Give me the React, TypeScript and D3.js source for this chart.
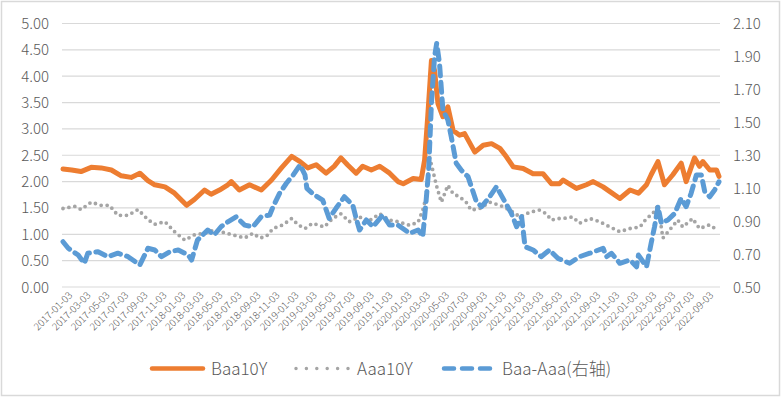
import React from 'react';
import * as d3 from 'd3';

const W = 782;
const H = 398;

const leftTicks = [0, 0.5, 1, 1.5, 2, 2.5, 3, 3.5, 4, 4.5, 5];
const rightTicks = [0.5, 0.7, 0.9, 1.1, 1.3, 1.5, 1.7, 1.9, 2.1];
const xTickLabels = d3.range(35).map((i) => d3.timeFormat('%Y-%m-%d')(new Date(2017, i * 2, 3)));

const seriesNames = ['Baa10Y', 'Aaa10Y', 'Baa-Aaa(右轴)'];

const baaDates = [
  '2017-01-03','2017-01-31','2017-03-02','2017-04-04','2017-05-06','2017-06-08','2017-07-10','2017-08-11','2017-09-08','2017-10-04',
  '2017-10-26','2017-11-28','2017-12-29','2018-02-06','2018-03-03','2018-04-05','2018-04-26','2018-05-23','2018-06-19','2018-06-30',
  '2018-07-26','2018-08-28','2018-10-05','2018-11-07','2018-12-09','2019-01-11','2019-02-07','2019-03-04','2019-03-31','2019-05-02',
  '2019-05-28','2019-06-19','2019-07-10','2019-08-07','2019-08-28','2019-09-25','2019-10-22','2019-11-23','2019-12-20','2020-01-06',
  '2020-02-07','2020-03-04','2020-03-15','2020-03-25','2020-04-06','2020-04-16','2020-04-27','2020-05-13','2020-05-29','2020-06-15',
  '2020-07-06','2020-07-22','2020-08-24','2020-09-20','2020-10-17','2020-11-13','2020-12-04','2020-12-26','2021-01-27','2021-02-28',
  '2021-04-01','2021-04-28','2021-05-24','2021-06-05','2021-07-18','2021-08-19','2021-09-10','2021-10-12','2021-11-03','2021-12-05',
  '2022-01-07','2022-02-03','2022-03-01','2022-03-16','2022-04-07','2022-04-28','2022-05-25','2022-06-21','2022-07-07','2022-08-03',
  '2022-08-19','2022-08-30','2022-09-21','2022-10-13','2022-10-21',
];
const baaValues = [
  2.24, 2.22, 2.19, 2.27, 2.26, 2.22, 2.11, 2.08, 2.16, 2.02,
  1.94, 1.90, 1.78, 1.55, 1.66, 1.84, 1.76, 1.84, 1.94, 2.00,
  1.84, 1.94, 1.84, 2.03, 2.26, 2.48, 2.38, 2.26, 2.32, 2.16,
  2.29, 2.45, 2.32, 2.16, 2.29, 2.22, 2.29, 2.16, 2.00, 1.96,
  2.06, 2.04, 2.41, 3.23, 4.30, 4.11, 3.48, 3.23, 3.42, 2.97,
  2.88, 2.91, 2.56, 2.69, 2.72, 2.63, 2.47, 2.28, 2.25, 2.15,
  2.15, 1.96, 1.96, 2.03, 1.87, 1.94, 2.00, 1.90, 1.81, 1.68,
  1.84, 1.78, 1.94, 2.13, 2.38, 1.94, 2.13, 2.35, 2.00, 2.45,
  2.29, 2.38, 2.22, 2.22, 2.10,
];

const aaaDates = [
  '2017-01-03','2017-02-11','2017-03-02','2017-04-04','2017-05-06','2017-06-02','2017-06-29','2017-08-01','2017-09-02','2017-10-04',
  '2017-10-26','2017-11-28','2017-12-29','2018-01-31','2018-03-03','2018-04-05','2018-05-06','2018-06-14','2018-07-05','2018-08-12',
  '2018-09-08','2018-09-30','2018-10-21','2018-11-12','2018-12-14','2019-01-11','2019-02-01','2019-02-23','2019-03-19','2019-04-26',
  '2019-05-23','2019-06-19','2019-07-16','2019-08-18','2019-09-14','2019-10-22','2019-11-23','2019-12-20','2020-01-27','2020-02-23',
  '2020-03-09','2020-03-20','2020-03-31','2020-04-22','2020-05-08','2020-05-29','2020-06-15','2020-07-06','2020-07-27','2020-08-12',
  '2020-09-09','2020-10-11','2020-11-13','2020-12-15','2021-01-17','2021-02-18','2021-03-21','2021-04-12','2021-04-28','2021-05-19',
  '2021-06-05','2021-07-06','2021-07-28','2021-08-30','2021-10-01','2021-11-03','2021-12-05','2022-01-07','2022-02-08','2022-03-01',
  '2022-03-21','2022-04-07','2022-04-23','2022-05-14','2022-06-10','2022-06-26','2022-07-28','2022-08-19','2022-09-21','2022-10-16',
];
const aaaValues = [
  1.49, 1.53, 1.47, 1.61, 1.55, 1.55, 1.36, 1.36, 1.47, 1.28,
  1.19, 1.24, 1.05, 0.89, 0.99, 1.02, 1.08, 1.02, 0.99, 0.93,
  1.02, 0.93, 0.96, 1.11, 1.18, 1.30, 1.18, 1.11, 1.21, 1.14,
  1.30, 1.39, 1.24, 1.33, 1.24, 1.39, 1.27, 1.24, 1.17, 1.23,
  1.46, 1.71, 2.47, 1.93, 1.61, 1.93, 1.77, 1.71, 1.61, 1.46,
  1.49, 1.61, 1.55, 1.46, 1.33, 1.42, 1.46, 1.39, 1.27, 1.30,
  1.30, 1.33, 1.21, 1.30, 1.24, 1.14, 1.05, 1.11, 1.14, 1.30,
  1.39, 1.55, 0.93, 1.08, 1.27, 1.14, 1.30, 1.11, 1.18, 1.08,
];

const spreadDates = [
  '2017-01-03','2017-01-20','2017-02-21','2017-03-13','2017-03-24','2017-04-26','2017-05-27','2017-06-29','2017-08-01','2017-09-08',
  '2017-10-04','2017-10-26','2017-11-17','2017-12-13','2018-01-10','2018-02-11','2018-02-22','2018-03-13','2018-04-15','2018-05-06',
  '2018-05-28','2018-06-19','2018-07-16','2018-08-12','2018-09-08','2018-10-05','2018-11-01','2018-11-12','2018-12-03','2018-12-25',
  '2019-01-16','2019-02-07','2019-02-23','2019-03-01','2019-03-25','2019-04-21','2019-05-12','2019-06-03','2019-06-30','2019-07-27',
  '2019-08-07','2019-08-18','2019-09-09','2019-09-30','2019-11-01','2019-11-23','2019-12-20','2020-01-27','2020-02-23','2020-03-09',
  '2020-03-20','2020-03-28','2020-04-06','2020-04-16','2020-04-23','2020-05-02','2020-05-13','2020-05-29','2020-06-09','2020-06-25',
  '2020-07-11','2020-08-02','2020-08-29','2020-09-15','2020-10-11','2020-11-02','2020-11-29','2020-12-20','2021-01-06','2021-01-22',
  '2021-02-02','2021-02-28','2021-03-26','2021-04-22','2021-05-19','2021-06-26','2021-07-28','2021-08-30','2021-10-12','2021-10-23',
  '2021-11-08','2021-12-05','2022-01-07','2022-01-28','2022-02-03','2022-03-01','2022-03-16','2022-03-27','2022-04-07','2022-04-18',
  '2022-05-09','2022-05-31','2022-06-21','2022-07-07','2022-07-23','2022-08-09','2022-08-25','2022-09-05','2022-09-21','2022-10-07',
  '2022-10-21',
];
const spreadValues = [
  0.775, 0.735, 0.694, 0.644, 0.705, 0.714, 0.684, 0.705, 0.684, 0.634,
  0.735, 0.725, 0.684, 0.714, 0.725, 0.694, 0.664, 0.785, 0.846, 0.816,
  0.866, 0.896, 0.927, 0.876, 0.866, 0.927, 0.937, 0.988, 1.069, 1.130,
  1.180, 1.241, 1.180, 1.099, 1.059, 1.028, 0.917, 0.978, 1.048, 0.998,
  0.917, 0.846, 0.907, 0.866, 0.937, 0.876, 0.876, 0.826, 0.846, 0.806,
  1.028, 1.210, 1.615, 1.898, 1.980, 1.858, 1.575, 1.514, 1.413, 1.251,
  1.210, 1.170, 1.018, 0.988, 1.048, 1.109, 1.018, 0.947, 0.866, 0.927,
  0.745, 0.725, 0.684, 0.725, 0.674, 0.644, 0.684, 0.705, 0.735, 0.684,
  0.705, 0.644, 0.664, 0.623, 0.694, 0.623, 0.765, 0.866, 0.988, 0.887,
  0.907, 0.947, 1.039, 0.988, 1.069, 1.180, 1.180, 1.079, 1.048, 1.089,
  1.139,
];

const FONT = "'Noto Sans CJK SC', 'Noto Sans', sans-serif";
const TEXT = '#595959';
const GRID = '#D9D9D9';
const ORANGE = '#ED7D31';
const GRAY = '#A5A5A5';
const BLUE = '#5B9BD5';

export default function App() {
  const parse = d3.timeParse('%Y-%m-%d');
  const x = d3
    .scaleTime()
    .domain([parse('2017-01-03') as Date, parse('2022-10-21') as Date])
    .range([63, 719]);
  const yL = d3.scaleLinear().domain([0, 5]).range([287, 23.5]);
  const yR = d3.scaleLinear().domain([0.5, 2.1]).range([287, 23.5]);

  const mk = (dates: string[], vals: number[]) =>
    dates.map((d, i) => ({ d: parse(d) as Date, v: vals[i] }));

  const lineL = d3
    .line<{ d: Date; v: number }>()
    .x((p) => x(p.d))
    .y((p) => yL(p.v));
  const lineR = d3
    .line<{ d: Date; v: number }>()
    .x((p) => x(p.d))
    .y((p) => yR(p.v));

  const baa = lineL(mk(baaDates, baaValues)) || '';
  const aaa = lineL(mk(aaaDates, aaaValues)) || '';
  const spr = lineR(mk(spreadDates, spreadValues)) || '';

  const legY = 368.5;

  return (
    <svg
      width={W}
      height={H}
      style={{ position: 'absolute', left: 0, top: 0, background: '#fff' }}
      fontFamily={FONT}
      fontWeight={300}
    >
      <rect x={1.5} y={1.5} width={W - 4} height={H - 4} fill="#fff" stroke={GRID} strokeWidth={1.5} />
      {leftTicks.map((t) => (
        <line key={'g' + t} x1={62} x2={720} y1={yL(t)} y2={yL(t)} stroke={GRID} strokeWidth={1.2} />
      ))}
      {leftTicks.map((t) => (
        <text key={'l' + t} x={49} y={yL(t) + 5.5} textAnchor="end" fontSize={15} fill={TEXT}>
          {d3.format('.2f')(t)}
        </text>
      ))}
      {rightTicks.map((t) => (
        <text key={'r' + t} x={733} y={yR(t) + 5.5} textAnchor="start" fontSize={15} fill={TEXT}>
          {d3.format('.2f')(t)}
        </text>
      ))}
      {xTickLabels.map((s) => {
        const tx = x(parse(s) as Date) + 10;
        const ty = 296;
        return (
          <text
            key={s}
            x={tx}
            y={ty}
            textAnchor="end"
            fontSize={10}
            fill={TEXT}
            transform={`rotate(-45 ${tx} ${ty})`}
          >
            {s}
          </text>
        );
      })}
      <path d={baa} fill="none" stroke={ORANGE} strokeWidth={5} strokeLinejoin="round" strokeLinecap="round" />
      <path d={aaa} fill="none" stroke={GRAY} strokeWidth={3.8} strokeLinecap="round" strokeDasharray="0 6" />
      <path d={spr} fill="none" stroke={BLUE} strokeWidth={5} strokeLinejoin="round" strokeLinecap="round" strokeDasharray="10 6.5" />

      <line x1={152} x2={203} y1={legY} y2={legY} stroke={ORANGE} strokeWidth={4.5} strokeLinecap="round" />
      <text x={211} y={legY + 6} fontSize={17} fill={TEXT}>{seriesNames[0]}</text>
      <line x1={296} x2={348} y1={legY} y2={legY} stroke={GRAY} strokeWidth={3.5} strokeLinecap="round" strokeDasharray="0 10.4" />
      <text x={357} y={legY + 6} fontSize={17} fill={TEXT}>{seriesNames[1]}</text>
      <line x1={444} x2={490} y1={legY} y2={legY} stroke={BLUE} strokeWidth={4.5} strokeLinecap="round" strokeDasharray="10 8" />
      <text x={502} y={legY + 6} fontSize={17} fill={TEXT}>{seriesNames[2]}</text>
    </svg>
  );
}
